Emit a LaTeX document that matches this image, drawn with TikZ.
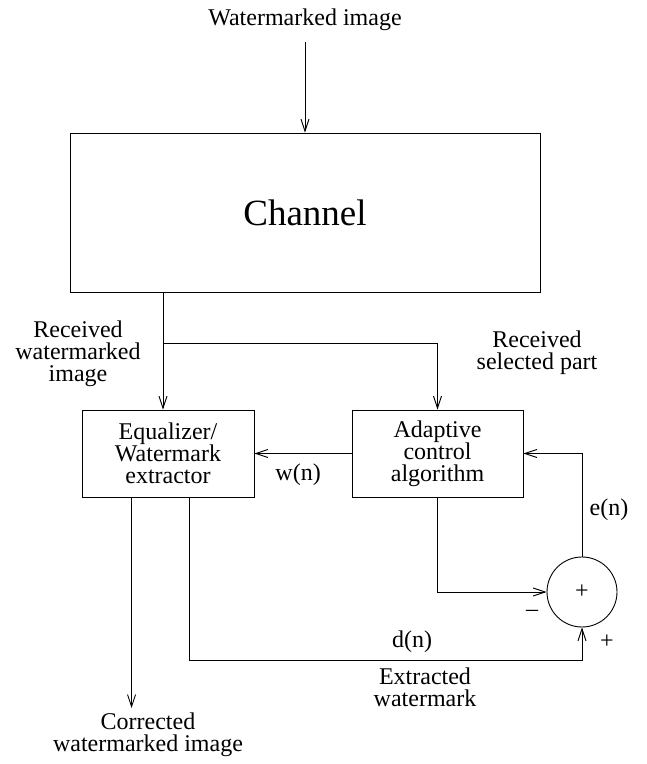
\documentclass[tikz,border=0pt]{standalone}
\usepackage{fontspec}
\setmainfont{Liberation Serif}
\usetikzlibrary{positioning, arrows.meta, calc}

\begin{document}
\begin{tikzpicture}[
    x=1pt, y=1pt,
    line width=0.9pt,
    >={Straight Barb[length=12pt, width=8pt]},
    txt/.style={align=center, inner sep=0pt, font=\fontsize{24}{22}\selectfont},
    box/.style={draw, rectangle, align=center, inner sep=0pt, font=\fontsize{24}{22}\selectfont}
]
    \useasboundingbox (0,0) rectangle (647,764);

    % Input and channel
    \node[txt] (input) at (305,744) {Watermarked image};
    \node[box, minimum width=470pt, minimum height=159pt, font=\fontsize{37}{40}\selectfont] (channel) at (305,551.5) {Channel};
    \draw[->] (input.south |- 0,722) -- (channel.north);

    % Equalizer and adaptive blocks
    \node[box, minimum width=172pt, minimum height=87pt] (eq) at (168,310.5) {Equalizer/\\Watermark\\extractor};
    \node[box, minimum width=171pt, minimum height=87pt] (adapt) at (437.5,310.5) {Adaptive\\control\\algorithm};
    \node[draw, circle, minimum size=70pt, inner sep=0pt, font=\fontsize{24}{22}\selectfont] (sum) at (582,172) {+};

    % Received image split
    \coordinate (tap) at (163,472);
    \coordinate (split) at (163,421);
    \draw[->] (tap) -- (tap |- eq.north);
    \draw[->] (split) -| (adapt.north);
    \node[txt] (recv) at (78,410) {Received\\watermarked\\image};
    \node[txt] (recvpart) at (537,411) {Received\\selected part};

    % Weights and error feedback
    \draw[->] (adapt.west) -- (eq.east) node[txt, pos=0.55, below=10pt] (wn) {w(n)};
    \draw[->] (sum.north) |- (adapt.east);
    \node[txt] (en) at (609,254) {e(n)};
    \draw[->] (adapt.south) |- (sum.west);
    \node[txt] (minus) at (532,151) {--};
    \node[txt] (plus) at (607,122) {+};

    % Extracted watermark
    \coordinate (dstart) at ([xshift=21pt]eq.south);
    \coordinate (dcorner) at (dstart |- 0,104);
    \draw[->] (dstart) -- (dcorner) -| (sum.south);
    \node[txt] (dn) at (412,122) {d(n)};
    \node[txt] (extr) at (425,77) {Extracted\\watermark};

    % Corrected output
    \coordinate (cstart) at ([xshift=50pt]eq.south west);
    \coordinate (cend) at (cstart |- 0,56);
    \draw[->] (cstart) -- (cend);
    \node[txt] (corr) at (148,29) {Corrected\\watermarked image};
\end{tikzpicture}
\end{document}
